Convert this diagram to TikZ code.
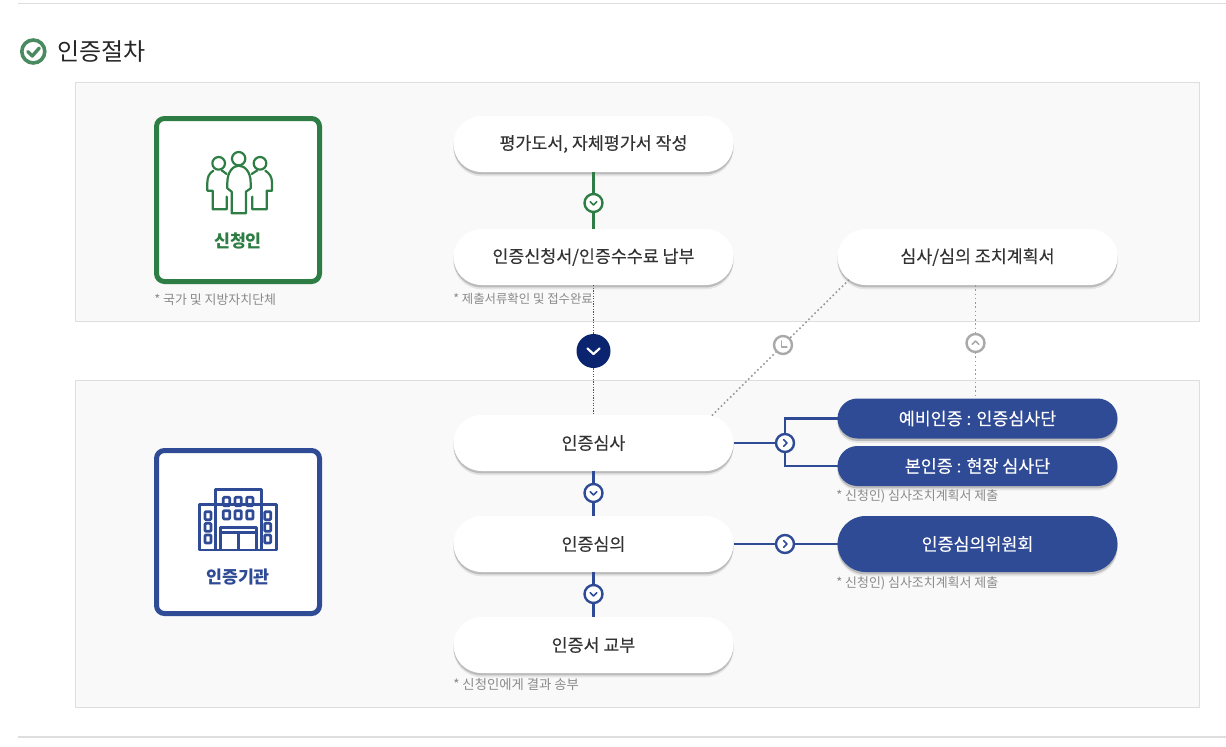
\documentclass[tikz,border=0pt]{standalone}
\usepackage{fontspec}
\setmainfont{Noto Sans CJK KR}
\newfontfamily\medfont[FakeBold=0.12]{Noto Sans CJK KR}
\usetikzlibrary{shapes.misc,shadows,calc}
\definecolor{grn}{HTML}{2E7D44}
\definecolor{blu}{HTML}{2F4B96}
\definecolor{nav}{HTML}{0B2470}
\definecolor{dot}{HTML}{A9A9A9}
\definecolor{ink}{HTML}{333333}
\definecolor{note}{HTML}{8A8A8A}
\definecolor{pan}{HTML}{F9F9F9}
\definecolor{rul}{HTML}{DEDEDE}
\definecolor{chk}{HTML}{4A8A60}
\def\px{0.75pt}
\newcommand{\chev}[3]{\draw[#2,line width=1.1,line cap=round,line join=round,rotate around={#3:(#1.center)}]
  ($(#1.center)+(-3.4,-1.4)$) -- ($(#1.center)+(0,2)$) -- ($(#1.center)+(3.4,-1.4)$);}
\tikzset{
  panel/.style={draw=rul,fill=pan,line width=0.75},
  softshadow/.style={
    preaction={draw=none,fill=black,opacity=.08,transform canvas={yshift=-3.2pt}},
    preaction={draw=none,fill=black,opacity=.18,transform canvas={yshift=-1.8pt}}},
  pill/.style={rounded rectangle,minimum width=280*\px,minimum height=56*\px,inner sep=0pt,outer sep=0pt,
    font=\fontsize{13}{15}\medfont,text=ink,fill=white,softshadow},
  bpill/.style={pill,fill=blu,text=white},
  slim/.style={minimum height=40*\px},
  role/.style={rounded corners=6pt,minimum width=163*\px,minimum height=163*\px,line width=5*\px,
    fill=white,inner sep=0pt,outer sep=0pt},
  rolelabel/.style={font=\fontsize{13}{15}\selectfont\bfseries,inner sep=0pt},
  notetext/.style={anchor=west,inner sep=0pt,text=note,font=\fontsize{9.7}{11}\selectfont},
  ring/.style={circle,minimum size=18*\px,inner sep=0pt,outer sep=0pt,fill=white,line width=1.5*\px},
  gline/.style={grn,line width=2.6*\px},
  bline/.style={blu,line width=2.6*\px},
  ndots/.style={nav!80!white,line width=1.3*\px,densely dotted},
  gdots/.style={dot!90!black,line width=1.6*\px,dotted},
}
\begin{document}
\begin{tikzpicture}[x=0.75pt,y=-0.75pt]
\useasboundingbox (0,0) rectangle (1226,746);
\fill[white] (0,0) rectangle (1226,746);
% page rules
\draw[rul,line width=1] (18,3.5) -- (1226,3.5);
\draw[rul,line width=1] (18,737) -- (1226,737);
% heading
\node[circle,draw=chk,line width=3.6*\px,minimum size=23*\px,inner sep=0pt] (hc) at (33.3,51.5) {};
\draw[chk,line width=3.4*\px,line cap=round,line join=round] ($(hc.center)+(-5.5,0)$) -- ($(hc.center)+(-1,4.5)$) -- ($(hc.center)+(6,-3.5)$);
\node[anchor=west,inner sep=0pt,text=black!85,font=\fontsize{18}{22}\selectfont] (title) at (57,52) {인증절차};
% panels
\draw[panel] (75.5,82.5) rectangle (1199.5,321);
\draw[panel] (75.5,380.5) rectangle (1199.5,707.5);
% nodes
\node[pill] (p1) at (593.5,144) {평가도서, 자체평가서 작성};
\node[pill] (p2) at (593.5,257) {인증신청서/인증수수료 납부};
\node[pill] (p3) at (977.5,257) {심사/심의 조치계획서};
\node[pill] (p4) at (593.5,443) {인증심사};
\node[pill] (p5) at (593.5,544) {인증심의};
\node[pill] (p6) at (593.5,645) {인증서 교부};
\node[bpill,slim] (b1) at (977.5,418.5) {예비인증 : 인증심사단};
\node[bpill,slim] (b2) at (977.5,466) {본인증 : 현장 심사단};
\node[bpill] (b3) at (977.5,544) {인증심의위원회};
% rings
\node[ring] (c1) at (593.5,203) {};
\node[circle,minimum size=34*\px,inner sep=0pt,fill=nav] (c2) at (593.5,351) {};
\node[ring] (c3) at (783,345) {};
\node[ring] (c4) at (975.5,343) {};
\node[ring] (c5) at (785,443) {};
\node[ring] (c6) at (593.5,493) {};
\node[ring] (c7) at (785,544) {};
\node[ring] (c8) at (593.5,594) {};
% connectors
\draw[gline] (p1.south) -- (c1.north);
\draw[gline] (c1.south) -- (p2.north);
\draw[ndots] (p2.south) -- (c2.north);
\draw[ndots] (c2.south) -- (p4.north);
\draw[gdots] (p3.190) -- (c3.north east);
\draw[gdots] (c3.south west) -- (p4.13);
\draw[gdots] (p3.south) ++(-2,0) -- (c4.north);
\draw[gdots] (c4.south) -- (c4.south |- b1.north);
\draw[bline] (p4.east) -- (c5.west);
\draw[bline] (c5.north) |- (b1.west);
\draw[bline] (c5.south) |- (b2.west);
\draw[bline] (p4.south) -- (c6.north);
\draw[bline] (c6.south) -- (p5.north);
\draw[bline] (p5.east) -- (c7.west);
\draw[bline] (c7.east) -- (b3.west);
\draw[bline] (p5.south) -- (c8.north);
\draw[bline] (c8.south) -- (p6.north);
% ring outlines and glyphs
\foreach \n/\c in {c1/grn,c5/blu,c6/blu,c7/blu,c8/blu}{\draw[\c,line width=2.4*\px] (\n) circle (9);}
\foreach \n in {c3,c4}{\draw[dot,line width=2.4*\px] (\n) circle (9);}
\chev{c1}{grn}{0}
\chev{c6}{blu}{0}
\chev{c8}{blu}{0}
\chev{c5}{blu}{90}
\chev{c7}{blu}{90}
\chev{c4}{dot}{180}
\draw[white,line width=2.2*\px,line cap=round,line join=round] ($(c2.center)+(-6,-2.5)$) -- ($(c2.center)+(0,3)$) -- ($(c2.center)+(6,-2.5)$);
\draw[dot,line width=1.3*\px,line cap=round,line join=round] ($(c3.center)+(-1.5,-4)$) -- ($(c3.center)+(-1.5,2)$) -- ($(c3.center)+(4,2)$);
% role boxes
\node[role,draw=grn] (r1) at (238,200) {};
\node[role,draw=blu] (r2) at (238,532) {};
\node[rolelabel,text=grn] (r1t) at (238,241) {신청인};
\node[rolelabel,text=blu] (r2t) at (238,577) {인증기관};
% people icon (coordinates in 3x zoom of the reference)
\begin{scope}[x=0.25pt,y=-0.25pt,grn,line width=2.2*\px,line join=round,line cap=round]
\draw (656,490) circle (19);
\draw (716,476) circle (20);
\draw (780,490) circle (19);
\draw (695,575) -- (682,565) -- (682,548) .. controls (682,515) and (700,497) .. (716,497) .. controls (734,497) and (752,515) .. (752,548) -- (752,565) -- (738,575) -- (738,640) -- (695,640) -- cycle;
\draw (640,512) .. controls (628,520) and (622,530) .. (622,548) -- (622,572) -- (638,572) -- (638,628) -- (680,628) -- (680,590);
\draw (665,511) -- (680,522);
\draw (796,512) .. controls (808,520) and (816,530) .. (816,548) -- (816,572) -- (800,572) -- (800,628) -- (757,628) -- (757,590);
\draw (772,511) -- (755,522);
\end{scope}
% building icon (coordinates in 3x zoom, offset to its crop)
\begin{scope}[shift={(140,440)},x=0.25pt,y=-0.25pt,blu,line width=2.8*\px,line join=round]
\draw (226,330) -- (226,148) -- (364,148) -- (364,330);
\draw (178,330) rectangle (410,193);
\foreach \xx in {250,285,320}{\foreach \yy in {172,212}{\draw[rounded corners=0.7pt] (\xx,\yy) rectangle ++(19,25);}}
\foreach \xx in {195,374}{\foreach \yy in {215,250,285}{\draw[rounded corners=0.7pt] (\xx,\yy) rectangle ++(18,24);}}
\draw (242,330) -- (242,262) -- (350,262) -- (350,330);
\draw (242,278) -- (350,278);
\draw (296,278) -- (296,330);
\end{scope}
% notes
\node[notetext] (n1) at (154,300) {* 국가 및 지방자치단체};
\node[notetext,font=\fontsize{9.3}{11}\selectfont] (n2) at (453,299) {* 제출서류확인 및 접수완료};
\node[notetext] (n3) at (836,496) {* 신청인) 심사조치계획서 제출};
\node[notetext] (n4) at (836,583) {* 신청인) 심사조치계획서 제출};
\node[notetext,font=\fontsize{10}{11}\selectfont] (n5) at (453,684) {* 신청인에게 결과 송부};
\end{tikzpicture}
\end{document}
